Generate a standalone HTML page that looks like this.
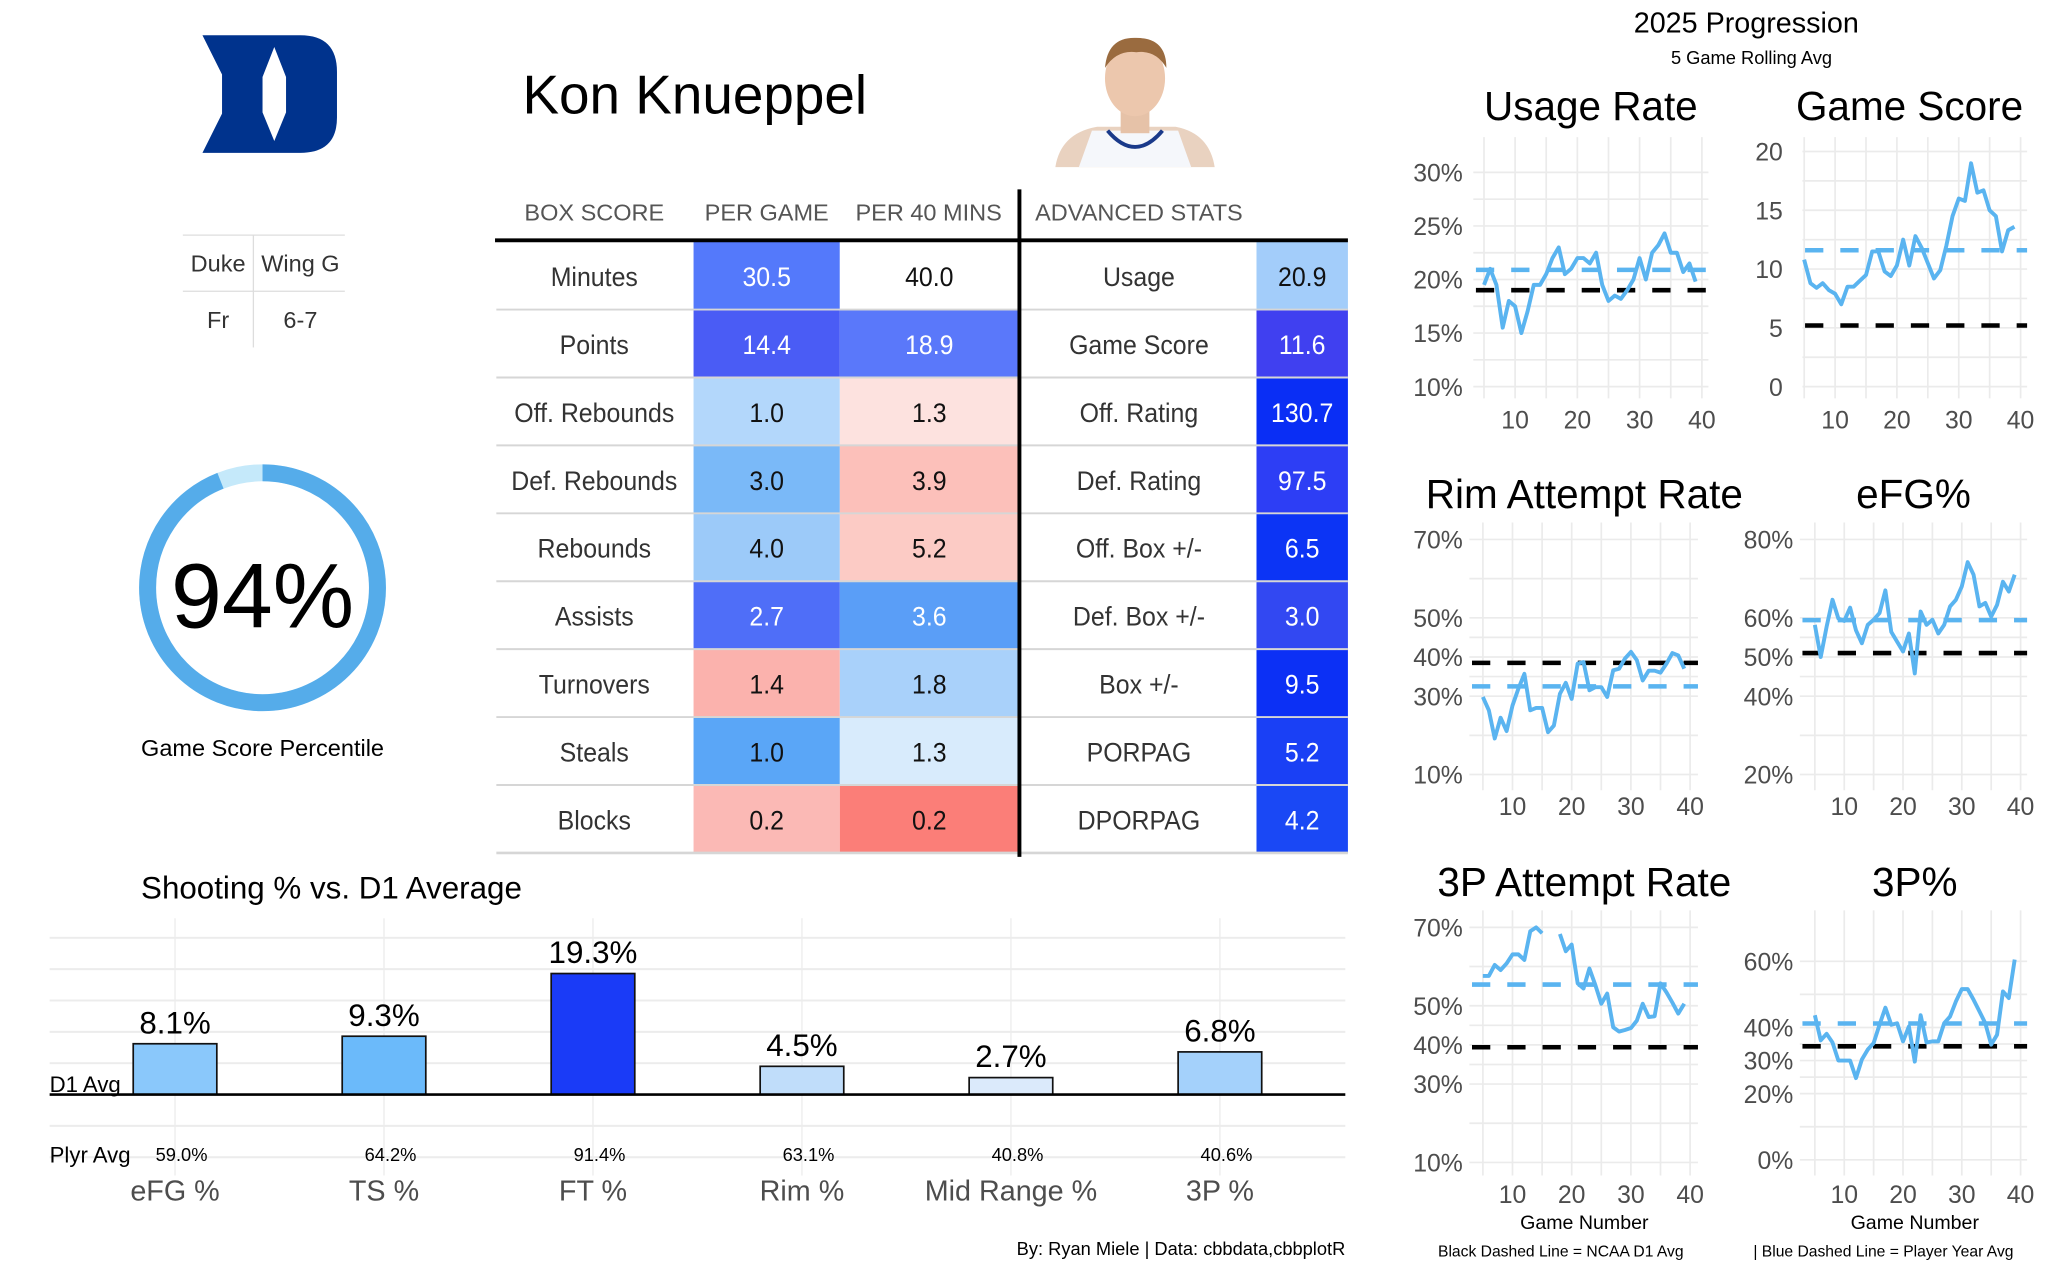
<!DOCTYPE html>
<html><head><meta charset="utf-8">
<style>
html,body{margin:0;padding:0;background:#fff;width:2048px;height:1280px;overflow:hidden}
svg{display:block}
text{font-family:"Liberation Sans",sans-serif}
.tb{font-family:"Liberation Sans Narrow","Liberation Sans",sans-serif}
</style></head>
<body>
<svg id="root" width="2048" height="1280" viewBox="0 0 1568 980" xmlns="http://www.w3.org/2000/svg">
  <g>
    <path d="M155,27 L230,27 Q258,27 258,55 L258,90 Q258,117 230,117 L155,117 L170,87 L170,57 Z" fill="#00338d"/>
    <path d="M210,36 L219,59 L219,86 L210,108 L201,86 L201,59 Z" fill="#fff"/>
  </g>
  <text x="400" y="87" font-size="42" fill="#000">Kon Knueppel</text>
  <g>
    <path d="M808,128 Q812,102 840,97 L900,97 Q926,102 930,128 Z" fill="#e9d2c0"/>
    <path d="M826,128 L836,100 L902,100 L912,128 Z" fill="#f5f7fb"/>
    <path d="M848,100 Q869,125 890,100" fill="none" stroke="#1a3a8a" stroke-width="3"/>
    <rect x="858" y="82" width="22" height="20" fill="#e6c2a8"/>
    <ellipse cx="869" cy="60" rx="23" ry="29" fill="#ecc7ad"/>
    <path d="M846,52 Q848,28 870,29 Q893,29 893,52 Q885,38 870,40 Q855,38 846,52 Z" fill="#9a6b3f"/>
  </g>
  <g class="tb" font-size="18" fill="#333" text-anchor="middle">
    <line x1="140" y1="180" x2="264" y2="180" stroke="#ddd"/>
    <line x1="140" y1="223" x2="264" y2="223" stroke="#ddd"/>
    <line x1="194" y1="180" x2="194" y2="266" stroke="#ddd"/>
    <text x="167" y="208" class="tb">Duke</text>
    <text x="230" y="208" class="tb">Wing G</text>
    <text x="167" y="251" class="tb">Fr</text>
    <text x="230" y="251" class="tb">6-7</text>
  </g>
  <g id="donut"></g>
  <g id="table"></g>
  <g id="bars"></g>
  <g id="panels"></g>
  <text x="1337" y="25" font-size="22" text-anchor="middle">2025 Progression</text>
  <text x="1341" y="49" font-size="14" text-anchor="middle">5 Game Rolling Avg</text>
  <text x="1213" y="941" font-size="15" text-anchor="middle">Game Number</text>
  <text x="1466" y="941" font-size="15" text-anchor="middle">Game Number</text>
  <text x="1195" y="962" font-size="12" text-anchor="middle">Black Dashed Line = NCAA D1 Avg</text>
  <text x="1442" y="962" font-size="12" text-anchor="middle">| Blue Dashed Line = Player Year Avg</text>
  <text x="1030" y="961" font-size="14" text-anchor="end">By: Ryan Miele | Data: cbbdata,cbbplotR</text>
</svg>
<script>
const NS="http://www.w3.org/2000/svg";
// ---- data ----
const percentile=94;
const tableRows=["Minutes","Points","Off. Rebounds","Def. Rebounds","Rebounds","Assists","Turnovers","Steals","Blocks"];
const perGame=["30.5","14.4","1.0","3.0","4.0","2.7","1.4","1.0","0.2"];
const per40=["40.0","18.9","1.3","3.9","5.2","3.6","1.8","1.3","0.2"];
const advLabels=["Usage","Game Score","Off. Rating","Def. Rating","Off. Box +/-","Def. Box +/-","Box +/-","PORPAG","DPORPAG"];
const advValues=["20.9","11.6","130.7","97.5","6.5","3.0","9.5","5.2","4.2"];
const perGameColors=["#5479fb","#4a5cf5","#b3d7fb","#7ab9f8","#9ccaf9","#4f6ef8","#fbb2ad","#5aa6f7","#fbb9b5"];
const per40Colors=["#ffffff","#5a78fa","#fde2df","#fcc0ba","#fccbc5","#5a9ef7","#a9d1fa","#d8ebfc","#fb7e78"];
const advColors=["#a3cdfa","#4040f0","#0a2ef5","#2d3ef5","#0c34f5","#3248f2","#0c30f5","#1a40f5","#1a48f5"];
const shotCats=["eFG %","TS %","FT %","Rim %","Mid Range %","3P %"];
const shotDiff=[8.1,9.3,19.3,4.5,2.7,6.8];
const shotPlayer=["59.0%","64.2%","91.4%","63.1%","40.8%","40.6%"];
const shotColors=["#8ac8fb","#6bbafa","#1a3bf7","#c0ddfa","#dbeafb","#a4d1fb"];
const games=[5,6,7,8,9,10,11,12,13,14,15,16,17,18,19,20,21,22,23,24,25,26,27,28,29,30,31,32,33,34,35,36,37,38,39];
const usageSeries=[19.5,21,19.5,15.5,18,17.5,15,17,19.5,19.5,20.5,22,23,20.5,21,22,22,21.5,22.5,19.5,18,18.5,18.2,19,20,22,20,22.5,23.2,24.3,22.5,22.5,20.7,21.5,19.8];
const gameScoreSeries=[10.8,8.8,8.4,8.8,8.2,7.9,7.0,8.5,8.5,9.0,9.5,11.5,11.5,9.8,9.4,10.3,12.5,10.3,12.8,11.8,10.5,9.2,9.9,12,14.5,16,15.8,19,16.5,16.7,15,14.5,11.5,13.3,13.6];
const rimSeries=[29.8,26.4,19.2,24.5,21.1,27.6,31.9,35.7,26.4,27,27,20.8,22.5,30.6,33.4,29.3,38.3,38.7,31.5,32.3,32.3,29.8,36.6,37,39.6,41.3,39.2,34,36.5,36.5,36,38.3,41,40.4,37];
const efgSeries=[58.2,50,57.7,64.6,59.8,59.2,62.6,56.8,53.5,58.2,59.5,61.2,67,56.4,53.9,51.4,56,45.8,61.6,58.2,59.5,56,58.2,62.9,64.6,68,74.2,71,62.9,63.8,60.3,63.3,69.2,66.7,71];
const tparSeries=[57.6,57.6,60.4,59.1,60.8,63.1,63.1,61.7,69,70,68.5,null,null,68.3,63.9,65.6,55.7,54.4,59.5,55.2,50.5,53.1,44.5,43.4,43.8,44.3,46.2,50.5,47.1,47.3,55.7,53.4,50.8,48,50.5];
const tpSeries=[43.7,36.1,38.1,35.5,30,30,30,24.7,30.3,33.3,35.3,40.8,46,40.8,41.3,35.8,40.3,29.7,43.7,35.5,35.8,35.8,41.3,43.3,47.9,51.6,51.6,48.4,44.9,41.3,34.8,37.8,50.9,48.9,60.5];
const panelTitles=["Usage Rate","Game Score","Rim Attempt Rate","eFG%","3P Attempt Rate","3P%"];
const playerAvgs=[20.9,11.6,32.5,59.4,55.4,41.2];
const d1Avgs=[19.0,5.2,38.5,51.0,39.4,34.3];
const yTickSets=[[10,15,20,25,30],[0,5,10,15,20],[10,30,40,50,70],[20,40,50,60,80],[10,30,40,50,70],[0,20,30,40,60]];
const xTicks=[10,20,30,40];

function el(tag,attrs,parent){const e=document.createElementNS(NS,tag);for(const k in attrs)e.setAttribute(k,attrs[k]);parent.appendChild(e);return e;}

// ---- donut ----
(function(){
  const g=document.getElementById('donut');const cx=201,cy=450,r=88;const C=2*Math.PI*r;
  const bg=el('circle',{cx:cx,cy:cy,r:r,fill:'none',stroke:'#c5e9fa','stroke-width':13},g);
  
  
  const arc=el('circle',{cx:cx,cy:cy,r:r,fill:'none',stroke:'#55acea','stroke-width':13,'stroke-dasharray':(C*percentile/100)+' '+C,transform:`rotate(-90 ${cx} ${cy})`},g);
  
  
  const t=el('text',{x:cx,y:cy+12,'font-size':70,'text-anchor':'middle','dominant-baseline':'middle'},g);t.textContent=percentile+'%';
  
  
  const l=el('text',{x:cx,y:579,'font-size':18,'text-anchor':'middle'},g);l.textContent='Game Score Percentile';
  
  
})();

// ---- stats table ----
(function(){
  const g=document.getElementById('table');
  const heads=[["BOX SCORE",455],["PER GAME",587],["PER 40 MINS",711],["ADVANCED STATS",872]];
  heads.forEach(h=>{const t=el('text',{x:h[1],y:169,'font-size':18,'text-anchor':'middle',fill:'#555',class:'tb'},g);t.textContent=h[0];
    
    });
  const top=185,rh=52;
  const light=c=>{const n=parseInt(c.slice(1),16);const r=n>>16,gg=(n>>8)&255,b=n&255;return (0.299*r+0.587*gg+0.114*b)>150;};
  const txt=(x,y,s,fill)=>{const t=el('text',{x:x,y:y,'font-size':20.5,'text-anchor':'middle',fill:fill,class:'tb',transform:`translate(${x} 0) scale(0.93 1) translate(${-x} 0)`},g);t.textContent=s;return t;};
  tableRows.forEach((name,i)=>{
    const y=top+i*rh;
    const cells=[[531,112,perGameColors[i],perGame[i]],[643,137,per40Colors[i],per40[i]],[962,70,advColors[i],advValues[i]]];
    cells.forEach(c=>{const r=el('rect',{x:c[0],y:y,width:c[1],height:rh,fill:c[2]},g);
      
      
      const t=txt(c[0]+c[1]/2,y+34,c[3],light(c[2])?'#111':'#fff');
      
      });
    const a=txt(455,y+34,name,'#333');
    
    
    const b=txt(872,y+34,advLabels[i],'#333');
    
    
    if(i>0){const ln=el('line',{x1:380,y1:y,x2:1032,y2:y,stroke:'#d6d6d6','stroke-width':1.5},g);
      
      }
  });
  const hl=el('line',{x1:379,y1:184,x2:1032,y2:184,stroke:'#000','stroke-width':3},g);
  
  
  const bl=el('line',{x1:380,y1:653,x2:1032,y2:653,stroke:'#d6d6d6','stroke-width':2},g);
  
  
  const vl=el('line',{x1:780.5,y1:145,x2:780.5,y2:656,stroke:'#000','stroke-width':3},g);
  
  
})();

// ---- shooting bar chart ----
(function(){
  const g=document.getElementById('bars');
  const base=838,pxPer=4.8,x0=134,step=160,bw=64;
  const yS=v=>base-v*pxPer;const xS=i=>x0+i*step;
  const title=el('text',{x:108,y:688,'font-size':24},g);title.textContent='Shooting % vs. D1 Average';
  
  
  for(let v=-10;v<=25;v+=5){const y=yS(v);const ln=el('line',{x1:38,y1:y,x2:1030,y2:y,stroke:'#ececec','stroke-width':1.5},g);
    
    }
  shotCats.forEach((c,i)=>{const ln=el('line',{x1:xS(i),y1:703,x2:xS(i),y2:900,stroke:'#ececec','stroke-width':1},g);
    
    });
  shotCats.forEach((c,i)=>{
    const v=shotDiff[i];
    const r=el('rect',{x:xS(i)-bw/2,y:yS(v),width:bw,height:v*pxPer,fill:shotColors[i],stroke:'#111','stroke-width':1.3},g);
    
    
    const t=el('text',{x:xS(i),y:yS(v)-8,'font-size':24,'text-anchor':'middle'},g);t.textContent=v.toFixed(1)+'%';
    
    
    const p=el('text',{x:xS(i)+5,y:889,'font-size':14,'text-anchor':'middle'},g);p.textContent=shotPlayer[i];
    
    
    const cl=el('text',{x:xS(i),y:919,'font-size':22,'text-anchor':'middle',fill:'#4d4d4d'},g);cl.textContent=c;
    
    
  });
  const bl=el('line',{x1:38,y1:base,x2:1030,y2:base,stroke:'#000','stroke-width':2},g);
  
  
  const d=el('text',{x:38,y:836,'font-size':17},g);d.textContent='D1 Avg';
  
  
  const pa=el('text',{x:38,y:890,'font-size':17},g);pa.textContent='Plyr Avg';
  
  
})();

// ---- progression panels ----
(function(){
  const root=document.getElementById('panels');
  const series=[usageSeries,gameScoreSeries,rimSeries,efgSeries,tparSeries,tpSeries];
  const layout=[
    {x10:1160,x40:1303,ya:132,yb:296,gl:1128,gr:1308,gt:105,gb:305,tx:1218,ty:92,lx:1120,xl:328,pct:true},
    {x10:1405,x40:1547,ya:116,yb:296,gl:1380,gr:1552,gt:105,gb:305,tx:1462,ty:92,lx:1365,xl:328,pct:false},
    {x10:1158,x40:1294,ya:413,yb:593,gl:1125,gr:1300,gt:400,gb:605,tx:1213,ty:389,lx:1120,xl:624,pct:true},
    {x10:1412,x40:1547,ya:413,yb:593,gl:1378,gr:1552,gt:400,gb:605,tx:1465,ty:389,lx:1373,xl:624,pct:true},
    {x10:1158,x40:1294,ya:710,yb:890,gl:1125,gr:1300,gt:697,gb:900,tx:1213,ty:686,lx:1120,xl:921,pct:true},
    {x10:1412,x40:1547,ya:736,yb:888,gl:1378,gr:1552,gt:697,gb:900,tx:1466,ty:686,lx:1373,xl:921,pct:true}
  ];
  layout.forEach((L,p)=>{
    const g=el('g',{},root);
    
    
    const ticks=yTickSets[p];const tmin=ticks[0],tmax=ticks[ticks.length-1];
    const xS=v=>L.x10+(v-10)*(L.x40-L.x10)/30;
    const yS=v=>L.yb+(v-tmin)*(L.ya-L.yb)/(tmax-tmin);
    const hv=[];ticks.forEach((t,i)=>{hv.push(t);if(i<ticks.length-1)hv.push((t+ticks[i+1])/2);});
    hv.forEach(v=>{const ln=el('line',{x1:L.gl,y1:yS(v),x2:L.gr,y2:yS(v),stroke:'#ebebeb','stroke-width':1.3},g);
      
      });
    [5,10,15,20,25,30,35,40].forEach(v=>{const ln=el('line',{x1:xS(v),y1:L.gt,x2:xS(v),y2:L.gb,stroke:'#ebebeb','stroke-width':1.3},g);
      
      });
    ticks.forEach(v=>{const t=el('text',{x:L.lx,y:yS(v)+7,'font-size':19,'text-anchor':'end',fill:'#4d4d4d'},g);t.textContent=v+(L.pct?'%':'');
      
      });
    xTicks.forEach(v=>{const t=el('text',{x:xS(v),y:L.xl,'font-size':19,'text-anchor':'middle',fill:'#4d4d4d'},g);t.textContent=v;
      
      });
    const tt=el('text',{x:L.tx,y:L.ty,'font-size':31,'text-anchor':'middle'},g);tt.textContent=panelTitles[p];
    
    
    const d1=el('line',{x1:L.gl+2,y1:yS(d1Avgs[p]),x2:L.gr,y2:yS(d1Avgs[p]),stroke:'#000','stroke-width':3.5,'stroke-dasharray':'14 13'},g);
    
    
    const pa=el('line',{x1:L.gl+2,y1:yS(playerAvgs[p]),x2:L.gr,y2:yS(playerAvgs[p]),stroke:'#5ab4f0','stroke-width':3.5,'stroke-dasharray':'14 13'},g);
    
    
    let d='';let pen=false;
    series[p].forEach((v,i)=>{if(v===null){pen=false;return;}d+=(pen?'L':'M')+xS(games[i]).toFixed(1)+','+yS(v).toFixed(1)+' ';pen=true;});
    const path=el('path',{d:d,fill:'none',stroke:'#5ab4f0','stroke-width':3,'stroke-linejoin':'round'},g);
    
    
  });
})();
</script>
</body></html>
